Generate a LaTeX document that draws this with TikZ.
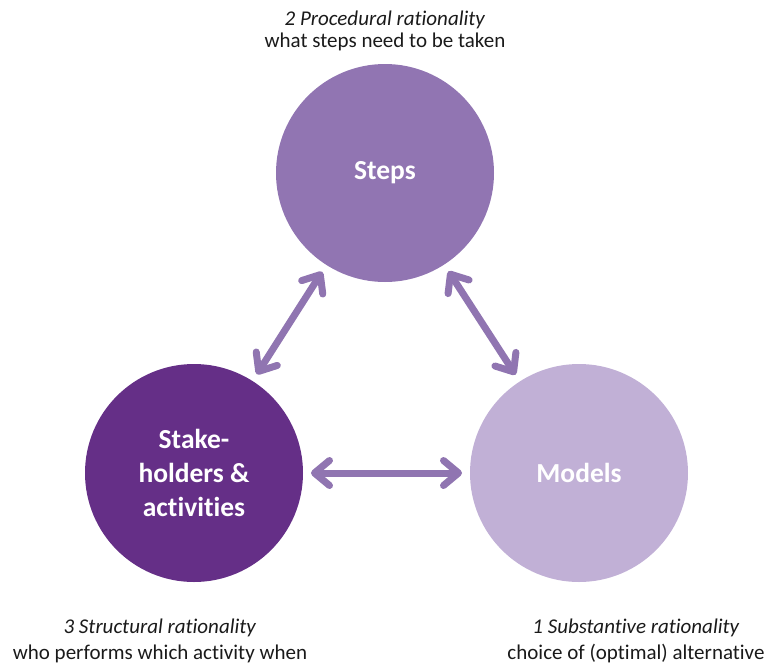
\documentclass[tikz,border=0pt]{standalone}
\usepackage{fontspec}
\setmainfont{Carlito}[Ligatures=NoCommon]
\usetikzlibrary{arrows.meta}
\definecolor{stepscol}{HTML}{9175B2}
\definecolor{stakecol}{HTML}{652F87}
\definecolor{modelcol}{HTML}{C1B0D6}
\definecolor{arrowcol}{HTML}{9075B1}
\definecolor{txt}{HTML}{1A1A1A}
\tikzset{
  bubble/.style={circle, minimum size=218pt, inner sep=0pt, outer sep=8pt, text=white,
    font=\fontsize{27.5}{34}\selectfont\bfseries, align=center},
  conn/.style={draw=arrowcol, line width=7pt, line cap=round,
    {Straight Barb[length=15pt, width=25pt, line cap=round, line join=round]}-{Straight Barb[length=15pt, width=25pt, line cap=round, line join=round]}},
  caption/.style={text=txt, align=center, inner sep=0pt, anchor=base}
}
\begin{document}
\begin{tikzpicture}[x=1pt, y=-1pt]
\useasboundingbox (0,0) rectangle (772,665);
\node[bubble, fill=stepscol] (steps) at (385,173) {Steps};
\node[bubble, fill=stakecol] (stake) at (194,473) {Stake-\\holders \&\\activities};
\node[bubble, fill=modelcol] (models) at (579,473) {Models};
\draw[conn] (steps) -- (stake);
\draw[conn] (steps) -- (models);
\draw[conn] (stake) -- (models);
\node[caption, font=\fontsize{21}{21.5}\selectfont] (capsteps) at (385,47) {\textit{2 Procedural rationality}\\what steps need to be taken};
\node[caption, font=\fontsize{21}{26}\selectfont] (capstake) at (160,659) {\textit{3 Structural rationality}\\who performs which activity when};
\node[caption, font=\fontsize{21}{26}\selectfont] (capmodels) at (636,659) {\textit{1 Substantive rationality}\\choice of (optimal) alternative};
\end{tikzpicture}
\end{document}
